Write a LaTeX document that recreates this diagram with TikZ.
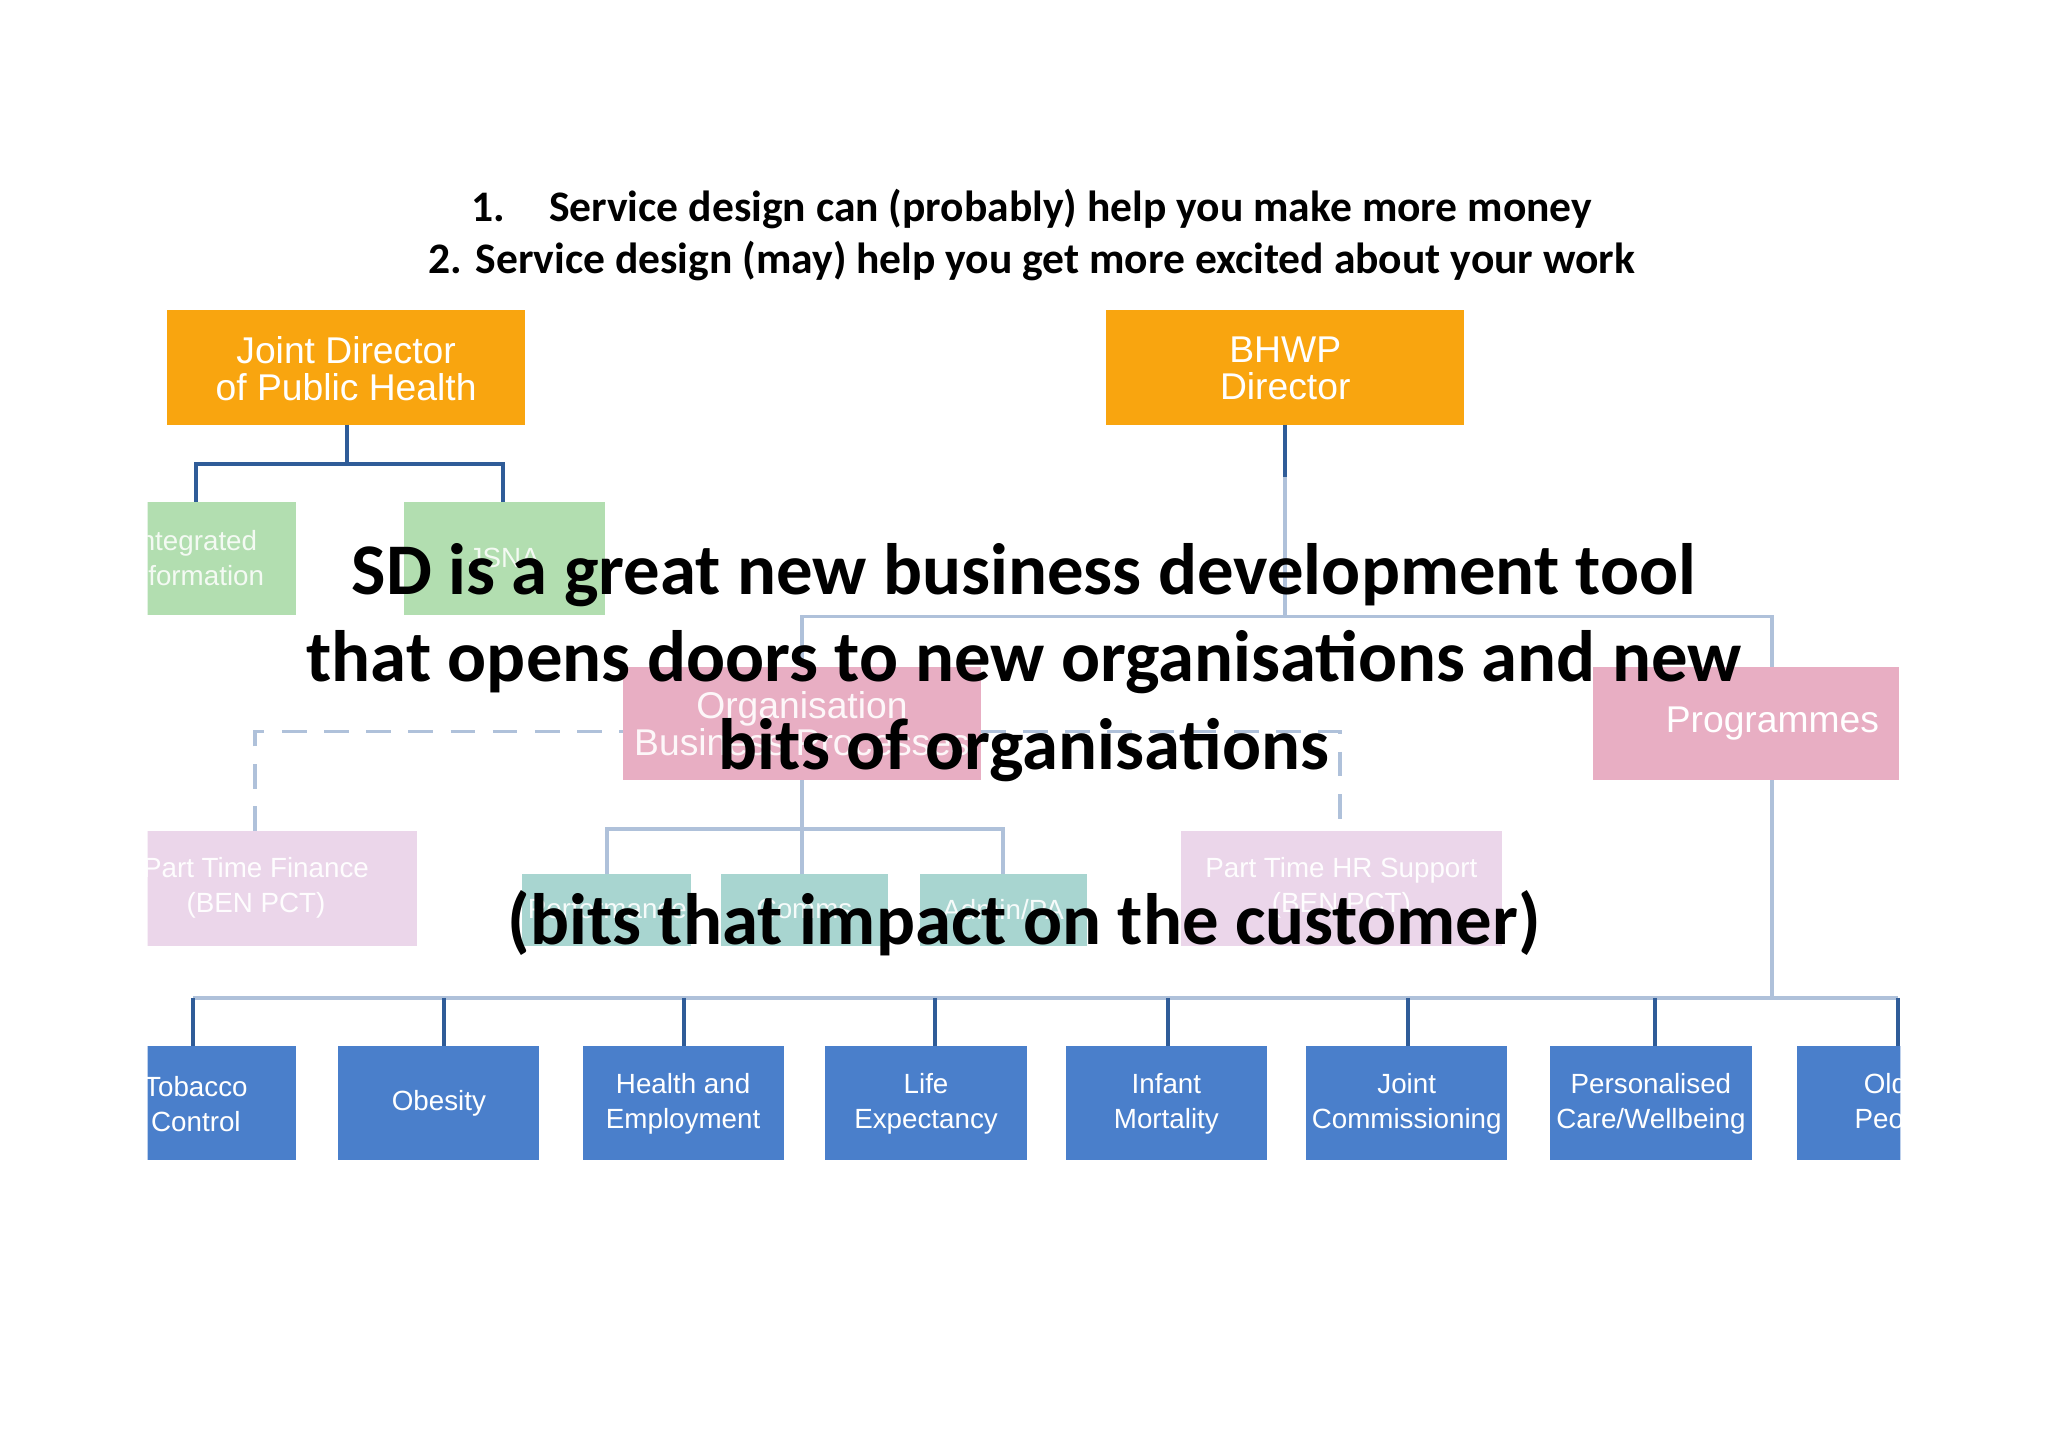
\documentclass[tikz,border=0pt]{standalone}
\usepackage{fontspec}
\setmainfont{Liberation Sans}
\newfontfamily\carlitofont{Carlito}
\begin{document}
\begin{tikzpicture}[x=0.013061cm,y=-0.013061cm,
 box/.style={draw=none,inner sep=0pt,align=center,text=white,font=\fontsize{10.6}{10.5}\selectfont},
 sbox/.style={box,font=\fontsize{7.9}{10}\selectfont},
 dk/.style={draw=darkln,line width=1.1pt},
 lt/.style={draw=lightln,line width=1.1pt},
 big/.style={font=\carlitofont\bfseries\fontsize{20.7}{22}\selectfont,text=black}]
\definecolor{orng}{HTML}{F9A50F}
\definecolor{grn}{HTML}{B2DEB0}
\definecolor{pnk}{HTML}{E8AEC3}
\definecolor{lav}{HTML}{EBD6EA}
\definecolor{teal}{HTML}{A8D5D0}
\definecolor{blu}{HTML}{4A7FCB}
\definecolor{darkln}{HTML}{2F5C98}
\definecolor{lightln}{HTML}{AFC1DA}
\fill[white] (0,0) rectangle (1568,1107);
\begin{scope}
\clip (113,0) rectangle (1455,1107);
\fill[orng] (128,237) rectangle (402,325);
\node[box] (jd) at (265,282) {Joint Director\\of Public Health};
\fill[orng] (847,237) rectangle (1121,325);
\node[box] (bh) at (984,282) {BHWP\\Director};
\draw[dk] (266,325) -- (266,355);
\draw[dk] (150,384) -- (150,355) -- (385,355) -- (385,384);
\fill[grn] (72,384) rectangle (227,471);
\node[sbox,text=white!85!grn] (ii) at (149,427) {Integrated\\Information};
\fill[grn] (309,384) rectangle (463,471);
\node[sbox,text=white!85!grn] (js) at (386,427) {JSNA};
\draw[dk] (984,325) -- (984,365);
\draw[lt] (984,365) -- (984,472);
\draw[lt] (614,511) -- (614,472) -- (1357,472) -- (1357,511);
\fill[pnk] (477,511) rectangle (751,597);
\node[box,text=white!90!pnk] (ob) at (614,554) {Organisation\\Business Processes};
\fill[pnk] (1220,511) rectangle (1454,597);
\node[box] (pr) at (1357,554) {Programmes};
\draw[lt,dash pattern=on 7pt off 5pt] (195,636) -- (195,560) -- (477,560);
\draw[lt,dash pattern=on 7pt off 5pt] (751,560) -- (1026,560) -- (1026,636);
\fill[lav] (90,636) rectangle (319,724);
\node[sbox,text=white!95!lav] (pf) at (196,680) {Part Time Finance\\(BEN PCT)};
\fill[lav] (904,636) rectangle (1150,724);
\node[sbox,text=white!95!lav] (ph) at (1027,680) {Part Time HR Support\\(BEN PCT)};
\draw[lt] (614,597) -- (614,635);
\draw[lt] (465,669) -- (465,635) -- (768,635) -- (768,669);
\draw[lt] (614,635) -- (614,669);
\fill[teal] (400,669) rectangle (529,724);
\node[sbox,text=white!90!teal] (pe) at (465,696) {Performance};
\fill[teal] (552,669) rectangle (680,724);
\node[sbox,text=white!90!teal] (co) at (616,696) {Comms};
\fill[teal] (704,669) rectangle (832,724);
\node[sbox,text=white!90!teal] (ad) at (768,696) {Admin/PA};
\draw[lt] (1357,597) -- (1357,764);
\draw[lt] (148,764) -- (1453,764);
\foreach \x/\c/\l/\t in {148/150/a/{Tobacco\\Control},340/336/b/{Obesity},524/523/c/{Health and\\Employment},716/709/d/{Life\\Expectancy},894/893/e/{Infant\\Mortality},1078/1077/f/{Joint\\Commissioning},1267/1264/g/{Personalised\\Care/Wellbeing},1453/1453/h/{Older\\People}}{
 \draw[dk] (\x,764) -- (\x,801);
 \fill[blu] (\c-77,801) rectangle (\c+77,888);
 \node[sbox] (\l) at (\c,845) {\t};
}
\end{scope}
\node[font=\carlitofont\bfseries\fontsize{12.4}{13}\selectfont] (t1) at (790,160) {1.\quad Service design can (probably) help you make more money};
\node[font=\carlitofont\bfseries\fontsize{12.4}{13}\selectfont] (t2) at (790,200) {2. Service design (may) help you get more excited about your work};
\node[big] (s1) at (784,440) {SD is a great new business development tool};
\node[big] (s2) at (784,507) {that opens doors to new organisations and new};
\node[big] (s3) at (784,574) {bits of organisations};
\node[big] (s4) at (784,707) {(bits that impact on the customer)};
\end{tikzpicture}
\end{document}
